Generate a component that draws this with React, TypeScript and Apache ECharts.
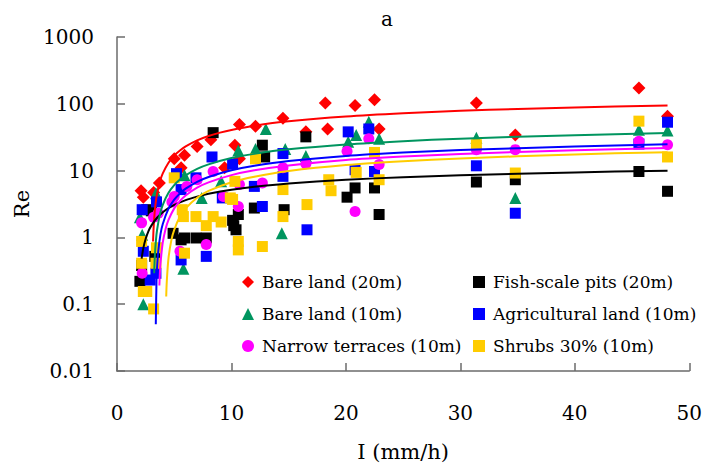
import React, { useEffect, useRef } from "react";
import * as echarts from "echarts";

// ---- legend / series names ----
const seriesNames = [
  "Bare land (20m)",
  "Fish-scale pits (20m)",
  "Bare land (10m)",
  "Agricultural land (10m)",
  "Narrow terraces (10m)",
  "Shrubs 30% (10m)",
];
const seriesColors = ["#FF0000", "#000000", "#00955F", "#0000FF", "#FF00FF", "#FFCC00"];
const seriesSymbols = ["diamond", "rect", "triangle", "rect", "circle", "rect"];
const seriesSymbolSizes = [13, 11, 12, 11, 11, 11];

const yTickLabels = ["0.01", "0.1", "1", "10", "100", "1000"];
const xTickLabels = ["0", "10", "20", "30", "40", "50"];

// ---- observed points [I (mm/h), Re] ----
const bareLand20 = [
  [2.1, 5.0], [2.3, 4.0], [3.2, 4.7], [3.7, 6.5], [5.0, 15], [5.6, 11], [5.9, 17],
  [7.0, 23], [8.2, 29], [9.4, 11], [10.3, 24], [10.7, 15], [10.7, 49], [12.1, 46],
  [14.5, 61], [16.5, 38], [18.2, 103], [18.4, 42], [20.8, 94], [22.5, 115], [22.9, 42],
  [31.4, 103], [34.8, 34], [45.6, 172], [48.1, 65],
];
const fishScale20 = [
  [2.0, 0.22], [2.15, 0.38], [2.6, 2.6], [3.0, 2.5], [3.3, 0.52], [4.9, 1.15], [5.6, 0.92],
  [5.9, 0.98], [6.9, 0.98], [7.8, 0.98], [8.4, 37], [10.1, 1.8], [10.2, 1.5], [10.4, 1.3],
  [10.6, 2.2], [12.0, 2.75], [12.7, 24], [12.9, 16], [14.6, 2.6], [16.5, 32], [20.1, 4.0],
  [20.8, 5.5], [22.5, 5.5], [22.9, 2.2], [31.4, 6.75], [34.8, 7.3], [45.6, 9.7], [48.1, 4.9],
];
const bareLand10 = [
  [2.0, 2.0], [2.2, 1.1], [2.3, 0.1], [3.4, 4.6], [5.8, 0.34], [5.9, 8.5], [7.4, 3.9],
  [9.1, 6.9], [10.6, 20], [12.1, 21], [13.0, 42], [14.4, 1.15], [14.7, 21], [16.5, 16.5],
  [20.2, 27], [20.9, 34], [22.0, 54], [22.9, 30], [31.4, 31], [34.8, 3.9], [45.6, 41], [48.1, 40],
];
const agricultural10 = [
  [2.2, 2.6], [2.3, 0.62], [2.9, 0.23], [3.4, 0.29], [3.45, 3.4], [5.2, 9.0], [5.6, 5.2],
  [5.6, 0.46], [6.9, 7.8], [7.8, 0.52], [8.3, 16], [9.2, 3.9], [10.1, 12.5], [12.0, 5.8],
  [12.7, 2.9], [14.5, 18], [14.5, 8.2], [16.6, 1.3], [20.2, 38], [20.8, 10.3], [22.0, 42],
  [22.5, 9.7], [31.4, 11.8], [34.8, 2.3], [45.6, 25], [48.1, 53],
];
const narrowTerraces10 = [
  [2.15, 1.65], [2.2, 0.29], [3.2, 2.0], [3.6, 2.3], [4.8, 3.4], [5.0, 4.1], [5.5, 0.62],
  [6.1, 5.8], [7.0, 7.3], [7.8, 0.78], [8.4, 9.7], [9.3, 4.1], [10.6, 2.9], [10.7, 6.2],
  [12.7, 6.5], [14.5, 11], [16.5, 12.7], [20.1, 19.4], [20.8, 2.45], [22.0, 30], [22.9, 12.3],
  [31.4, 20.6], [34.8, 20.6], [45.6, 27.4], [48.1, 24.4],
];
const shrubs10 = [
  [2.15, 0.87], [2.15, 0.41], [2.3, 0.155], [2.6, 0.155], [3.2, 0.085], [3.4, 0.41], [3.45, 0.7],
  [5.0, 7.8], [5.7, 2.6], [5.8, 2.05], [5.9, 0.58], [6.9, 2.05], [7.8, 1.5], [8.4, 2.05],
  [9.1, 1.7], [9.9, 3.9], [10.1, 3.7], [10.3, 6.9], [10.6, 0.87], [10.6, 0.65], [12.1, 15],
  [12.7, 0.73], [14.5, 5.2], [14.5, 2.05], [16.6, 3.1], [18.5, 7.3], [18.7, 5.0], [20.9, 9.4],
  [22.5, 18.7], [22.9, 7.3], [31.4, 24.4], [34.8, 9.2], [45.6, 55], [48.1, 16],
];

// ---- trend curves [I, Re] ----
const bareLand20Fit = [
  [3.15, 0.87], [3.2, 1.4], [3.3, 2.5], [3.4, 3.5], [3.5, 4.5], [3.75, 6.9], [4, 9.1], [4.5, 13.1],
  [5, 16.8], [5.5, 20], [6, 23], [7, 28.3], [8, 32.9], [9, 37], [10, 40.6], [12, 46.9], [15, 54.6],
  [20, 64.5], [25, 72.1], [30, 78.4], [35, 83.7], [40, 88.3], [48.1, 94.6],
];
const fishScale20Fit = [
  [2.15, 0.48], [2.3, 0.69], [2.5, 0.945], [2.75, 1.24], [3, 1.5], [3.5, 1.97], [4, 2.38],
  [4.5, 2.74], [5, 3.06], [6, 3.62], [7, 4.08], [8, 4.49], [10, 5.17], [12, 5.73], [15, 6.41],
  [20, 7.29], [25, 7.97], [30, 8.52], [40, 9.4], [48.1, 9.96],
];
const bareLand10Fit = [
  [3.25, 0.29], [3.3, 0.5], [3.4, 0.9], [3.5, 1.29], [3.75, 2.21], [4, 3.08], [4.5, 4.65],
  [5, 6.06], [5.5, 7.34], [6, 8.5], [7, 10.6], [8, 12.4], [10, 15.4], [12, 17.8], [15, 20.8],
  [20, 24.6], [25, 27.6], [30, 30.1], [40, 33.9], [48.1, 36.4],
];
const agricultural10Fit = [
  [3.39, 0.05], [3.45, 0.22], [3.5, 0.35], [3.6, 0.61], [3.8, 1.12], [4, 1.59], [4.5, 2.69],
  [5, 3.67], [5.5, 4.55], [6, 5.36], [7, 6.8], [8, 8.04], [10, 10.1], [12, 11.8], [15, 13.9],
  [20, 16.56], [25, 18.6], [30, 20.3], [40, 23.0], [48.1, 24.7],
];
const narrowTerraces10Fit = [
  [3.7, 0.19], [3.75, 0.3], [3.8, 0.41], [4, 0.84], [4.25, 1.35], [4.5, 1.83], [5, 2.72],
  [5.5, 3.52], [6, 4.25], [7, 5.55], [8, 6.67], [10, 8.55], [12, 10.1], [15, 11.95], [20, 14.37],
  [25, 16.2], [30, 17.77], [40, 20.19], [48.1, 21.7],
];
const shrubs10Fit = [
  [4.3, 0.13], [4.35, 0.22], [4.5, 0.49], [4.75, 0.91], [5, 1.3], [5.5, 2.05], [6, 2.72], [7, 3.92],
  [8, 4.96], [10, 6.69], [12, 8.1], [15, 9.84], [20, 12.08], [25, 13.8], [30, 15.23], [40, 17.46],
  [48.1, 18.9],
];

const pointSets = [bareLand20, fishScale20, bareLand10, agricultural10, narrowTerraces10, shrubs10];
const fitSets = [bareLand20Fit, fishScale20Fit, bareLand10Fit, agricultural10Fit, narrowTerraces10Fit, shrubs10Fit];

const FONT = "DejaVu Serif";

export default function App() {
  const ref = useRef<HTMLDivElement>(null);
  useEffect(() => {
    if (!ref.current) return;
    const chart = echarts.init(ref.current, null, { renderer: "svg" });
    const scatterSeries = seriesNames.map((name, i) => ({
      name,
      type: "scatter",
      data: pointSets[i],
      symbol: seriesSymbols[i],
      symbolSize: seriesSymbolSizes[i],
      itemStyle: { color: seriesColors[i], opacity: 1 },
      z: 2,
    }));
    const lineSeries = seriesNames.map((name, i) => ({
      name: name + " fit",
      type: "line",
      data: fitSets[i],
      symbol: "none",
      smooth: 0.3,
      lineStyle: { color: seriesColors[i], width: 2 },
      z: 3,
      silent: true,
    }));
    const legendBase = {
      orient: "vertical",
      top: 272,
      padding: 0,
      itemWidth: 12,
      itemHeight: 12,
      itemGap: 12,
      textStyle: { fontFamily: FONT, fontSize: 17, color: "#000", lineHeight: 20, padding: [0, 0, 0, 3] },
    };
    chart.setOption({
      animation: false,
      backgroundColor: "#fff",
      textStyle: { fontFamily: FONT },
      title: {
        text: "a",
        left: 381,
        top: 9,
        padding: 0,
        textStyle: { fontFamily: FONT, fontSize: 20, fontWeight: "normal", color: "#000" },
      },
      legend: [
        { ...legendBase, left: 242, data: [seriesNames[0], seriesNames[2], seriesNames[4]] },
        { ...legendBase, left: 473, data: [seriesNames[1], seriesNames[3], seriesNames[5]] },
      ],
      grid: { left: 117, right: 13, top: 37, bottom: 98 },
      xAxis: {
        type: "value",
        min: 0,
        max: 50,
        interval: 10,
        name: "I (mm/h)",
        nameLocation: "middle",
        nameGap: 70,
        nameTextStyle: { fontFamily: FONT, fontSize: 21, color: "#000" },
        axisLine: { show: true, lineStyle: { color: "#6b6b6b", width: 1.5 } },
        axisTick: { show: true, inside: true, length: 8, lineStyle: { color: "#6b6b6b", width: 1.5 } },
        axisLabel: {
          fontFamily: FONT,
          fontSize: 20,
          color: "#000",
          margin: 32,
          formatter: (_v: number, idx: number) => xTickLabels[idx] ?? "",
        },
        splitLine: { show: false },
      },
      yAxis: {
        type: "log",
        logBase: 10,
        min: 0.01,
        max: 1000,
        name: "Re",
        nameLocation: "middle",
        nameGap: 82,
        nameTextStyle: { fontFamily: FONT, fontSize: 21, color: "#000" },
        axisLine: { show: true, lineStyle: { color: "#6b6b6b", width: 1.5 } },
        axisTick: { show: true, inside: true, length: 8, lineStyle: { color: "#6b6b6b", width: 1.5 } },
        minorTick: { show: false },
        axisLabel: {
          fontFamily: FONT,
          fontSize: 20,
          color: "#000",
          margin: 23,
          formatter: (_v: number, idx: number) => yTickLabels[idx] ?? "",
        },
        splitLine: { show: false },
      },
      series: [...scatterSeries, ...lineSeries],
    });
    return () => chart.dispose();
  }, []);
  return (
    <div
      ref={ref}
      style={{ position: "fixed", left: 0, top: 0, width: 705, height: 469, background: "#fff" }}
    />
  );
}
